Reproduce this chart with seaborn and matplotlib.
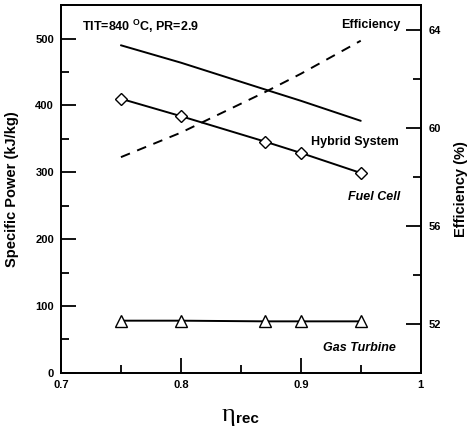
import matplotlib
matplotlib.use("Agg")
import matplotlib.pyplot as plt
from matplotlib.ticker import MultipleLocator
import seaborn as sns
import pandas as pd

# ---- data ----
eta_rec = [0.75, 0.80, 0.87, 0.90, 0.95]
hybrid_system = [490, 464, 424, 407, 377]
fuel_cell = [410, 384, 346, 329, 299]
gas_turbine = [78, 78, 77, 77, 77]
efficiency = [58.8, 59.8, 61.45, 62.2, 63.55]

x_ticks = [0.7, 0.8, 0.9, 1.0]
x_tick_labels = ["0.7", "0.8", "0.9", "1"]
left_ticks = [0, 100, 200, 300, 400, 500]
right_ticks = [52, 56, 60, 64]

sns.set_theme(style="ticks")
plt.rcParams["font.family"] = ["Liberation Sans", "DejaVu Sans"]
plt.rcParams["mathtext.fontset"] = "custom"
plt.rcParams["mathtext.rm"] = "Liberation Sans"
plt.rcParams["mathtext.bf"] = "Liberation Sans:bold"
for k in ["text.color", "axes.labelcolor", "xtick.color", "ytick.color",
          "axes.edgecolor"]:
    plt.rcParams[k] = "black"

df = pd.DataFrame({
    "eta": eta_rec,
    "hybrid": hybrid_system,
    "fuel": fuel_cell,
    "gas": gas_turbine,
    "eff": efficiency,
})

fig = plt.figure(figsize=(4.69, 4.32), dpi=100)
ax = fig.add_axes([0.130, 0.137, 0.767, 0.851])
ax2 = ax.twinx()

lw = 1.4
sns.lineplot(data=df, x="eta", y="hybrid", ax=ax, color="black", lw=lw)
sns.lineplot(data=df, x="eta", y="fuel", ax=ax, color="black", lw=lw,
             marker="D", markersize=6, markerfacecolor="white",
             markeredgecolor="black", markeredgewidth=1.0)
sns.lineplot(data=df, x="eta", y="gas", ax=ax, color="black", lw=lw,
             marker="^", markersize=8, markerfacecolor="white",
             markeredgecolor="black", markeredgewidth=1.0)
sns.lineplot(data=df, x="eta", y="eff", ax=ax2, color="black", lw=lw,
             linestyle=(0, (5, 4)))

ax.set_xlim(0.7, 1.0)
ax.set_ylim(0, 550)
ax2.set_ylim(50, 65)

ax.set_xticks(x_ticks)
ax.set_xticklabels(x_tick_labels)
ax.set_yticks(left_ticks)
ax2.set_yticks(right_ticks)
ax.xaxis.set_minor_locator(MultipleLocator(0.05))
ax.yaxis.set_minor_locator(MultipleLocator(50))
ax2.yaxis.set_minor_locator(MultipleLocator(2))

for a in (ax, ax2):
    a.tick_params(which="major", direction="in", length=11, width=1.3,
                  labelsize=8, colors="black")
    a.tick_params(which="minor", direction="in", length=6, width=1.3,
                  colors="black")
    for lab in a.get_xticklabels() + a.get_yticklabels():
        lab.set_fontweight("bold")
    for s in a.spines.values():
        s.set_linewidth(1.3)
        s.set_color("black")
ax.tick_params(axis="y", pad=5)
ax.tick_params(axis="x", pad=5)
ax2.tick_params(axis="y", pad=6)

ax.set_xlabel("")
ax.set_ylabel("Specific Power (kJ/kg)", fontsize=10.5, fontweight="bold",
              labelpad=12, color="black")
ax2.set_ylabel("Efficiency (%)", fontsize=10.5, fontweight="bold",
               labelpad=9, color="black")

# x label: eta_rec
fig.text(228 / 469, 1 - 415 / 432, "η", fontsize=19,
         family=["Liberation Serif", "DejaVu Serif"], ha="center", va="center")
fig.text(236 / 469, 1 - 419 / 432, "rec", fontsize=11, fontweight="bold",
         ha="left", va="center")

# annotations
fig.text(82 / 469, 1 - 26 / 432, r"TIT=840 $^{\mathbf{O}}$C, PR=2.9",
         fontsize=9, fontweight="bold", ha="left", va="center")
fig.text(400 / 469, 1 - 25 / 432, "Efficiency", fontsize=9,
         fontweight="bold", ha="right", va="center")
fig.text(399 / 469, 1 - 142 / 432, "Hybrid System", fontsize=9,
         fontweight="bold", ha="right", va="center")
fig.text(400 / 469, 1 - 197 / 432, "Fuel Cell", fontsize=9,
         fontweight="bold", style="italic", ha="right", va="center")
fig.text(396 / 469, 1 - 348 / 432, "Gas Turbine", fontsize=9,
         fontweight="bold", style="italic", ha="right", va="center")

fig.savefig("out.png", dpi=100)
